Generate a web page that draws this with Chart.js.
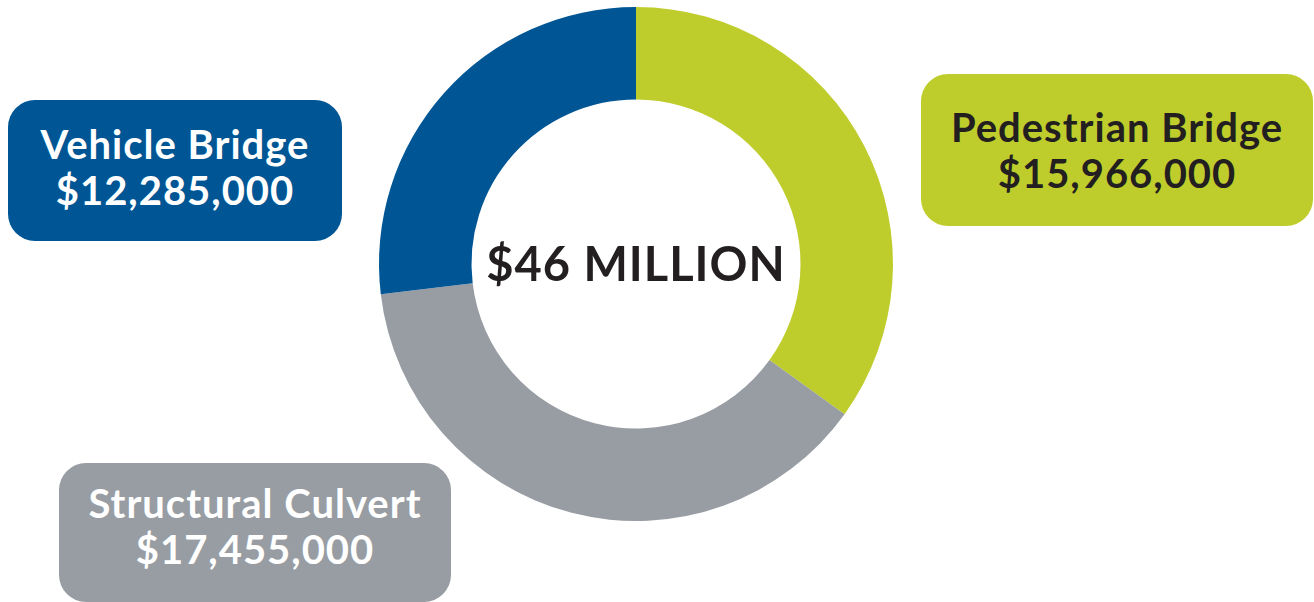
<!DOCTYPE html>
<html>
<head>
<meta charset="utf-8">
<script src="https://cdn.jsdelivr.net/npm/chart.js@4"></script>
<style>
  html, body { margin: 0; padding: 0; background: #fff; }
  #wrap { position: relative; width: 1314px; height: 602px; overflow: hidden; }
  #chart { position: absolute; left: 0; top: 0; }
  .box {
    position: absolute; box-sizing: border-box; border-radius: 27px;
    display: flex; flex-direction: column; justify-content: center; align-items: center;
    font-family: Lato, "Open Sans", sans-serif; font-weight: 700; font-size: 40px;
    line-height: 46px; color: #fff; letter-spacing: 1px;
  }
  #center {
    position: absolute; left: 436px; top: 237px; width: 400px; text-align: center;
    font-family: Lato, "Open Sans", sans-serif; font-weight: 700; font-size: 47px;
    color: #231f20; line-height: 52px; letter-spacing: 1px;
  }
</style>
</head>
<body>
<div id="wrap">
  <canvas id="chart" width="1314" height="602"></canvas>
  <div id="center"></div>
</div>
<script>
var categories = ["Pedestrian Bridge", "Structural Culvert", "Vehicle Bridge"];
var amounts = [15966000, 17455000, 12285000];
var colors = ['#bfcd2c', '#979da3', '#005695'];
var textColors = ['#231f20', '#ffffff', '#ffffff'];
var totalLabel = "$46 MILLION";

// label boxes (left, top, width, height, text shift up)
var boxes = [
    [921, 74, 392, 152, 0],
    [59, 463, 392, 139, 7],
    [8, 100, 334, 141, 4]
];

var wrap = document.getElementById('wrap');
document.getElementById('center').textContent = totalLabel;

categories.forEach(function(name, i) {
    var b = document.createElement('div');
    b.className = 'box';
    b.style.left = boxes[i][0] + 'px';
    b.style.top = boxes[i][1] + 'px';
    b.style.width = boxes[i][2] + 'px';
    b.style.height = boxes[i][3] + 'px';
    b.style.paddingBottom = (boxes[i][4] * 2) + 'px';
    b.style.background = colors[i];
    b.style.color = textColors[i];
    var l1 = document.createElement('div');
    l1.textContent = name;
    var l2 = document.createElement('div');
    l2.textContent = '$' + amounts[i].toLocaleString('en-US');
    b.appendChild(l1);
    b.appendChild(l2);
    wrap.appendChild(b);
});

var ctx = document.getElementById('chart').getContext('2d');
var donut = new Chart(ctx, {
    type: 'doughnut',
    data: {
        labels: categories,
        datasets: [{
            data: amounts,
            backgroundColor: colors,
            borderWidth: 0
        }]
    },
    options: {
        responsive: false,
        animation: false,
        cutout: '64%',
        layout: { padding: { top: 7, bottom: 81, left: 0, right: 42 } },
        plugins: {
            legend: { display: false },
            tooltip: { enabled: false }
        }
    }
});
</script>
</body>
</html>
